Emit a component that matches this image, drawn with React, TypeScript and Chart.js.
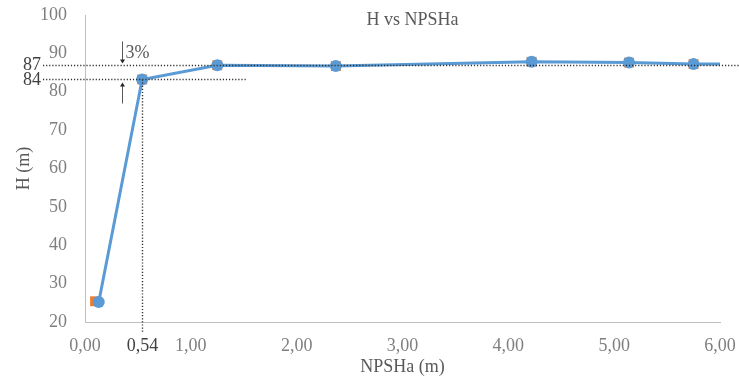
import React, { useEffect, useRef } from "react";
import { Chart, registerables } from "chart.js";

Chart.register(...registerables);

// ---- data ----
const npshBlue = [0.13, 0.54, 1.25, 2.37, 4.22, 5.14, 5.75, 6.0];
const headBlue = [25.2, 83.2, 86.9, 86.7, 87.8, 87.6, 87.2, 87.2];
const npshOrange = [0.095, 0.54, 1.25, 2.37, 4.22, 5.14, 5.75];
const headOrange = [25.4, 83.2, 86.9, 86.7, 87.8, 87.6, 87.2];
const xTickMin = 0;
const xTickMax = 6;
const yTickMin = 20;
const yTickMax = 100;
const headRef = 87; // reference head
const headRefLabel = "87";
const headDropLabel = "84";
const npshRequired = 0.54;
const npshRequiredLabel = "0,54";
const dropLabel = "3%";
const titleText = "H vs NPSHa";
const xTitle = "NPSHa (m)";
const yTitle = "H (m)";

const FONT = "'Liberation Serif', 'Times New Roman', serif";
const DARK = "#404040";

const annotationPlugin = {
  id: "npshAnnotations",
  afterDraw(chart: any) {
    const { ctx, scales, chartArea } = chart;
    const x = scales.x;
    const y = scales.y;
    const yHi = Math.round(y.getPixelForValue(headRef)) + 0.5;
    const yLo = Math.round(y.getPixelForValue(headBlue[1])) + 0.5;
    const xReq = Math.round(x.getPixelForValue(npshRequired)) + 0.5;
    ctx.save();
    // dotted lines
    ctx.strokeStyle = "#303030";
    ctx.lineWidth = 1.4;
    ctx.setLineDash([1.2, 1.9]);
    ctx.beginPath();
    ctx.moveTo(43, yHi);
    ctx.lineTo(chart.width, yHi);
    ctx.moveTo(43, yLo);
    ctx.lineTo(xReq + 104, yLo);
    ctx.moveTo(xReq, yLo);
    ctx.lineTo(xReq, chartArea.bottom + 10);
    ctx.stroke();
    ctx.setLineDash([]);

    // arrows
    const ax = xReq - 20;
    ctx.strokeStyle = "#595959";
    ctx.fillStyle = "#262626";
    ctx.lineWidth = 1;
    ctx.beginPath();
    ctx.moveTo(ax, yHi - 24);
    ctx.lineTo(ax, yHi - 5);
    ctx.moveTo(ax, yLo + 24);
    ctx.lineTo(ax, yLo + 6);
    ctx.stroke();
    ctx.beginPath();
    ctx.moveTo(ax - 2.5, yHi - 6);
    ctx.lineTo(ax + 2.5, yHi - 6);
    ctx.lineTo(ax, yHi - 2);
    ctx.closePath();
    ctx.moveTo(ax - 2.5, yLo + 7);
    ctx.lineTo(ax + 2.5, yLo + 7);
    ctx.lineTo(ax, yLo + 3);
    ctx.closePath();
    ctx.fill();

    // labels
    ctx.font = `18px ${FONT}`;
    ctx.fillStyle = DARK;
    ctx.textAlign = "right";
    ctx.textBaseline = "middle";
    ctx.fillText(headRefLabel, 41, yHi);
    ctx.fillText(headDropLabel, 41, yLo + 1);
    ctx.fillStyle = "#595959";
    ctx.textAlign = "left";
    ctx.fillText(dropLabel, ax + 3, yHi - 12);
    ctx.fillStyle = DARK;
    ctx.textAlign = "center";
    ctx.fillText(npshRequiredLabel, xReq, 346);

    // title
    ctx.fillStyle = "#595959";
    ctx.textBaseline = "alphabetic";
    ctx.fillText(titleText, (chartArea.left + chartArea.right) / 2 + 10, 25);
    ctx.restore();
  },
};

export default function App() {
  const ref = useRef<HTMLCanvasElement>(null);
  useEffect(() => {
    const canvas = ref.current!;
    const chart = new Chart(canvas, {
      type: "scatter",
      data: {
        datasets: [
          {
            label: "H",
            data: npshBlue.map((v, i) => ({ x: v, y: headBlue[i] })),
            showLine: true,
            borderColor: "#5b9bd5",
            backgroundColor: "#5b9bd5",
            borderWidth: 3,
            pointRadius: npshBlue.map((_, i) => (i === npshBlue.length - 1 ? 0 : 6)),
            pointBorderWidth: 0,
            pointStyle: "circle",
          },
          {
            label: "H2",
            data: npshOrange.map((v, i) => ({ x: v, y: headOrange[i] })),
            showLine: false,
            borderColor: "#ed7d31",
            backgroundColor: "#ed7d31",
            pointRadius: 7,
            pointBorderWidth: 0,
            pointStyle: "rect",
          },
        ],
      },
      options: {
        responsive: false,
        animation: false,
        layout: { padding: { left: 0, top: 15, right: 19, bottom: 0 } },
        plugins: {
          legend: { display: false },
          tooltip: { enabled: false },
          title: { display: false },
        },
        scales: {
          x: {
            type: "linear",
            min: xTickMin,
            max: xTickMax,
            grid: { display: false, drawTicks: false },
            border: { display: true, color: "#bfbfbf", width: 1 },
            ticks: {
              stepSize: 1,
              padding: 13,
              color: "#7f7f7f",
              font: { family: FONT, size: 18 },
              callback: (v: any) => Number(v).toFixed(2).replace(".", ","),
            },
            title: {
              display: true,
              text: xTitle,
              color: "#595959",
              font: { family: FONT, size: 18 },
              padding: { top: 0, bottom: 3 },
            },
            afterFit: (s: any) => {
              s.height = 59;
              s.paddingLeft = 0;
              s.paddingRight = 0;
              s.paddingTop = 0;
              s.paddingBottom = 0;
            },
          },
          y: {
            type: "linear",
            min: yTickMin,
            max: yTickMax,
            grid: { display: false, drawTicks: false },
            border: { display: true, color: "#bfbfbf", width: 1 },
            ticks: {
              stepSize: 10,
              padding: 18,
              color: "#7f7f7f",
              font: { family: FONT, size: 18 },
            },
            title: {
              display: true,
              text: yTitle,
              color: "#595959",
              font: { family: FONT, size: 18 },
              padding: { top: 13, bottom: 0 },
            },
            afterFit: (s: any) => {
              s.width = 85;
              s.paddingLeft = 0;
              s.paddingRight = 0;
              s.paddingTop = 0;
              s.paddingBottom = 0;
            },
          },
        },
      },
      plugins: [annotationPlugin],
    });
    return () => chart.destroy();
  }, []);
  return (
    <div style={{ position: "fixed", left: 0, top: 0, width: 739, height: 381, background: "#fff" }}>
      <canvas ref={ref} width={739} height={381} />
    </div>
  );
}
